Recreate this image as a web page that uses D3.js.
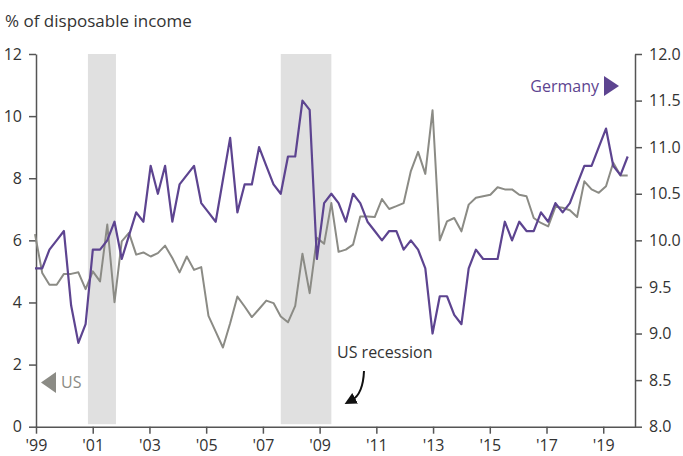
<!DOCTYPE html>
<html>
<head>
<meta charset="utf-8">
<script src="https://cdnjs.cloudflare.com/ajax/libs/d3/7.8.5/d3.min.js"></script>
<style>
  html, body { margin: 0; padding: 0; background: #fff; }
  svg { display: block; font-family: "Open Sans", sans-serif; }
</style>
</head>
<body>
<svg id="chart" width="683" height="456"></svg>
<script>
// quarterly, 1999 Q1 .. 2019 Q3
const startYear = 1999;

// US saving rate, % of disposable income (left axis)
const usSaving = [
  6.2, 4.95, 4.57, 4.57, 4.92, 4.92, 4.97, 4.43, 5.0, 4.68,
  6.51, 4.01, 5.97, 6.24, 5.54, 5.61, 5.48, 5.59, 5.83, 5.43,
  4.97, 5.48, 5.05, 5.14, 3.57, 3.06, 2.55, 3.33, 4.19, 3.87,
  3.53, 3.79, 4.06, 3.98, 3.55, 3.36, 3.89, 5.57, 4.3, 6.08,
  5.89, 7.2, 5.63, 5.7, 5.86, 6.77, 6.77, 6.75, 7.33, 7.01,
  7.1, 7.2, 8.23, 8.85, 8.14, 10.19, 6.0, 6.61, 6.72, 6.29,
  7.15, 7.37, 7.42, 7.47, 7.71, 7.64, 7.64, 7.47, 7.42, 6.72,
  6.56, 6.45, 7.08, 7.05, 6.97, 6.75, 7.9, 7.64, 7.53, 7.74,
  8.5, 8.09, 8.09
];

// Germany saving rate, % of disposable income (right axis)
const germanySaving = [
  9.7, 9.7, 9.9, 10.0, 10.1, 9.3, 8.9, 9.1, 9.9, 9.9,
  10.0, 10.2, 9.8, 10.05, 10.3, 10.2, 10.8, 10.5, 10.8, 10.2,
  10.6, 10.7, 10.8, 10.4, 10.3, 10.2, 10.65, 11.1, 10.3, 10.6,
  10.6, 11.0, 10.8, 10.6, 10.5, 10.9, 10.9, 11.5, 11.4, 9.8,
  10.4, 10.5, 10.4, 10.2, 10.5, 10.4, 10.2, 10.1, 10.0, 10.1,
  10.1, 9.9, 10.0, 9.9, 9.7, 9.0, 9.4, 9.4, 9.2, 9.1,
  9.7, 9.9, 9.8, 9.8, 9.8, 10.2, 10.0, 10.2, 10.1, 10.1,
  10.3, 10.2, 10.4, 10.3, 10.4, 10.6, 10.8, 10.8, 11.0, 11.2,
  10.8, 10.7, 10.9
];

const recessions = [[2000.83, 2001.8], [2007.5, 2009.25]];
const yearTicks = [1999, 2001, 2003, 2005, 2007, 2009, 2011, 2013, 2015, 2017, 2019];
const leftTicks = [0, 2, 4, 6, 8, 10, 12];
const rightTicks = [8, 8.5, 9, 9.5, 10, 10.5, 11, 11.5, 12];

const purple = '#5d4490';
const grey = '#8b8b85';
const axisColor = '#555';
const textColor = '#333';

const svg = d3.select('#chart');

const plotLeft = 36, plotRight = 635, plotTop = 54, plotBottom = 426.7;

const quarters = usSaving.map((d, i) => startYear + i / 4);

// data positions
const x = d3.scaleLinear()
  .domain([startYear, quarters[quarters.length - 1]])
  .range([35, 627.7]);

// year tick positions
const xAxisScale = d3.scaleLinear()
  .domain([1999, 2020.12])
  .range([plotLeft, plotRight]);

const yLeft = d3.scaleLinear().domain([0, 12]).range([plotBottom, plotTop]);
const yRight = d3.scaleLinear().domain([8, 12]).range([plotBottom, plotTop]);

// recession shading
svg.append('g')
  .selectAll('rect')
  .data(recessions)
  .enter()
  .append('rect')
  .attr('x', d => x(d[0]))
  .attr('width', d => x(d[1]) - x(d[0]))
  .attr('y', plotTop)
  .attr('height', plotBottom - plotTop - 2.5)
  .attr('fill', '#e0e0e0');

// axes
const styleAxis = (g) => {
  g.selectAll('.domain').attr('stroke', axisColor).attr('stroke-width', 1.5);
  g.selectAll('.tick line').attr('stroke', axisColor).attr('stroke-width', 1.5);
  g.selectAll('.tick text')
    .attr('fill', textColor)
    .style('font-size', '16px')
    .style('font-family', '"Open Sans", sans-serif');
};

svg.append('g')
  .attr('transform', `translate(${plotLeft},0)`)
  .call(d3.axisLeft(yLeft).tickValues(leftTicks).tickSize(7).tickPadding(7).tickSizeOuter(0))
  .call(styleAxis);

svg.append('g')
  .attr('transform', `translate(${plotRight},0)`)
  .call(d3.axisRight(yRight).tickValues(rightTicks).tickFormat(d3.format('.1f'))
    .tickSize(7).tickPadding(7).tickSizeOuter(0))
  .call(styleAxis);

svg.append('g')
  .attr('transform', `translate(0,${plotBottom})`)
  .call(d3.axisBottom(xAxisScale).tickValues(yearTicks)
    .tickFormat(d => "'" + String(d).slice(2))
    .tickSize(7).tickPadding(6).tickSizeOuter(0))
  .call(styleAxis);

// lines
const usLine = d3.line()
  .x((d, i) => x(quarters[i]))
  .y(d => yLeft(d));

const deLine = d3.line()
  .x((d, i) => x(quarters[i]))
  .y(d => yRight(d));

svg.append('path')
  .datum(usSaving)
  .attr('d', usLine)
  .attr('fill', 'none')
  .attr('stroke', grey)
  .attr('stroke-width', 2)
  .attr('stroke-linejoin', 'round');

svg.append('path')
  .datum(germanySaving)
  .attr('d', deLine)
  .attr('fill', 'none')
  .attr('stroke', purple)
  .attr('stroke-width', 2.2)
  .attr('stroke-linejoin', 'round');

// title
svg.append('text')
  .attr('x', 5)
  .attr('y', 27)
  .attr('fill', textColor)
  .style('font-size', '17px')
  .text('% of disposable income');

// series labels
svg.append('text')
  .attr('x', 599)
  .attr('y', 92)
  .attr('text-anchor', 'end')
  .attr('fill', purple)
  .style('font-size', '16px')
  .text('Germany');

svg.append('path')
  .attr('d', 'M604,76 L604,96 L619,86 Z')
  .attr('fill', purple);

svg.append('path')
  .attr('d', 'M56,372 L56,393 L41,382.5 Z')
  .attr('fill', grey);

svg.append('text')
  .attr('x', 61)
  .attr('y', 388)
  .attr('fill', grey)
  .style('font-size', '16px')
  .text('US');

// recession annotation
svg.append('defs')
  .append('marker')
  .attr('id', 'arrow')
  .attr('viewBox', '0 0 10 10')
  .attr('refX', 3)
  .attr('refY', 5)
  .attr('markerWidth', 6)
  .attr('markerHeight', 6)
  .attr('orient', 'auto')
  .append('path')
  .attr('d', 'M0,0 L10,5 L0,10 Z')
  .attr('fill', '#111');

svg.append('text')
  .attr('x', 337)
  .attr('y', 358)
  .attr('fill', textColor)
  .style('font-size', '16px')
  .text('US recession');

svg.append('path')
  .attr('d', 'M364,371 Q363,394 352,400')
  .attr('fill', 'none')
  .attr('stroke', '#111')
  .attr('stroke-width', 2)
  .attr('marker-end', 'url(#arrow)');
</script>
</body>
</html>
